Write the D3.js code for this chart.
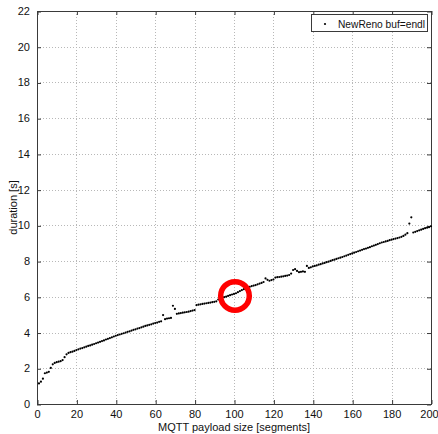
<!DOCTYPE html>
<html>
<head>
<meta charset="utf-8">
<script src="https://cdn.jsdelivr.net/npm/d3@7"></script>
<style>
  html, body { margin: 0; padding: 0; background: #fff; }
  svg { display: block; font-family: "Liberation Sans", Arial, Helvetica, sans-serif; }
</style>
</head>
<body>
<svg id="chart" width="438" height="434"></svg>
<script>
// Payload sizes in segments (1..200)
const payloadSizes = d3.range(1, 201);

// Measured completion time [s] for each payload size
const durations = [
  1.15, 1.25, 1.42, 1.72, 1.76, 1.80, 2.02, 2.22, 2.30, 2.34,
  2.37, 2.40, 2.46, 2.62, 2.78, 2.86, 2.90, 2.93, 2.97, 3.02,
  3.06, 3.10, 3.13, 3.17, 3.21, 3.25, 3.28, 3.32, 3.36, 3.40,
  3.44, 3.48, 3.52, 3.56, 3.61, 3.65, 3.69, 3.73, 3.78, 3.82,
  3.86, 3.89, 3.93, 3.96, 4.00, 4.04, 4.07, 4.11, 4.15, 4.18,
  4.22, 4.25, 4.29, 4.33, 4.37, 4.40, 4.43, 4.46, 4.50, 4.53,
  4.56, 4.60, 4.63, 4.98, 4.75, 4.78, 4.80, 4.82, 5.50, 5.32,
  5.05, 5.07, 5.09, 5.11, 5.13, 5.15, 5.17, 5.20, 5.23, 5.26,
  5.54, 5.56, 5.58, 5.60, 5.62, 5.64, 5.66, 5.68, 5.70, 5.72,
  5.75, 5.85, 5.92, 5.95, 5.98, 6.01, 6.05, 6.09, 6.13, 6.16,
  6.20, 6.26, 6.32, 6.38, 6.43, 6.48, 6.52, 6.56, 6.60, 6.63,
  6.66, 6.70, 6.74, 6.78, 6.83, 7.03, 6.95, 6.90, 6.94, 6.97,
  7.08, 7.10, 7.11, 7.13, 7.15, 7.17, 7.19, 7.22, 7.30, 7.50,
  7.55, 7.45, 7.38, 7.40, 7.42, 7.40, 7.73, 7.62, 7.65, 7.70,
  7.73, 7.76, 7.80, 7.83, 7.87, 7.90, 7.94, 7.97, 8.01, 8.05,
  8.08, 8.12, 8.16, 8.19, 8.23, 8.27, 8.31, 8.35, 8.39, 8.43,
  8.47, 8.51, 8.55, 8.59, 8.63, 8.67, 8.70, 8.74, 8.78, 8.83,
  8.87, 8.91, 8.95, 9.00, 9.04, 9.07, 9.10, 9.13, 9.17, 9.20,
  9.23, 9.26, 9.29, 9.32, 9.36, 9.41, 9.48, 9.56, 10.10, 10.45,
  9.60, 9.64, 9.68, 9.72, 9.76, 9.80, 9.84, 9.87, 9.90, 9.95
];

// Axis ticks
const xTicks = [0, 20, 40, 60, 80, 100, 120, 140, 160, 180, 200];
const yTicks = [0, 2, 4, 6, 8, 10, 12, 14, 16, 18, 20, 22];

// Highlighted operating point
const highlightSize = [100.5];
const highlightDuration = [6.05];

const seriesName = "NewReno buf=endl";
const xTitle = "MQTT payload size [segments]";
const yTitle = "duration [s]";

const points = payloadSizes.map((s, i) => ({ x: s, y: durations[i] }));

const svg = d3.select("#chart");
const margin = { left: 37, top: 11, right: 7, bottom: 30 };
const W = 438, H = 434;
const x0 = margin.left, x1 = W - margin.right;
const y0 = H - margin.bottom, y1 = margin.top;

const x = d3.scaleLinear().domain([0, 200]).range([x0, x1]);
const y = d3.scaleLinear().domain([0, 22]).range([y0, y1]);

const px = v => Math.round(v) + 0.5;
const axisColor = "#3a3a3a";
const fontSize = "11px";

// Dotted grid
const grid = svg.append("g");
grid.selectAll("line.gx").data(xTicks.slice(1, -1)).join("line")
  .attr("x1", d => px(x(d))).attr("x2", d => px(x(d)))
  .attr("y1", y1).attr("y2", y0)
  .attr("stroke", "#b8b8b8").attr("stroke-width", 1)
  .attr("stroke-dasharray", "1,2");
grid.selectAll("line.gy").data(yTicks.slice(1, -1)).join("line")
  .attr("x1", x0).attr("x2", x1)
  .attr("y1", d => px(y(d))).attr("y2", d => px(y(d)))
  .attr("stroke", "#b8b8b8").attr("stroke-width", 1)
  .attr("stroke-dasharray", "1,2");

// Axes with inward ticks on all four sides
const tickLen = 4;
const bottomAxis = d3.axisBottom(x).tickValues(xTicks).tickSize(-tickLen).tickPadding(6).tickFormat(d3.format("d"));
const topAxis = d3.axisTop(x).tickValues(xTicks).tickSize(-tickLen).tickFormat("");
const leftAxis = d3.axisLeft(y).tickValues(yTicks).tickSize(-tickLen).tickPadding(7).tickFormat(d3.format("d"));
const rightAxis = d3.axisRight(y).tickValues(yTicks).tickSize(-tickLen).tickFormat("");

function styleAxis(g) {
  g.select(".domain").remove();
  g.selectAll(".tick line").attr("stroke", axisColor);
  g.selectAll(".tick text").attr("fill", "#111").style("font-size", fontSize)
    .style("font-family", "'Liberation Sans', Arial, sans-serif");
}

const gBottom = svg.append("g").attr("transform", `translate(0,${px(y0) - 0.5})`).call(bottomAxis).call(styleAxis);
gBottom.selectAll(".tick line").attr("transform", "translate(0.5,0)");
// keep the last label inside the canvas
gBottom.selectAll(".tick text").filter(d => d === 200).attr("dx", "-2");

svg.append("g").attr("transform", `translate(0,${px(y1) - 0.5})`).call(topAxis).call(styleAxis)
  .selectAll(".tick line").attr("transform", "translate(0.5,0)");
svg.append("g").attr("transform", `translate(${px(x0) - 0.5},0)`).call(leftAxis).call(styleAxis)
  .selectAll(".tick line").attr("transform", "translate(0,0.5)");
svg.append("g").attr("transform", `translate(${px(x1) - 0.5},0)`).call(rightAxis).call(styleAxis)
  .selectAll(".tick line").attr("transform", "translate(0,0.5)");

// Plot box
svg.append("rect")
  .attr("x", px(x0)).attr("y", px(y1))
  .attr("width", Math.round(x1) - Math.round(x0)).attr("height", Math.round(y0) - Math.round(y1))
  .attr("fill", "none").attr("stroke", axisColor).attr("stroke-width", 1);

// Data points
svg.append("g").selectAll("circle").data(points).join("circle")
  .attr("cx", d => x(d.x)).attr("cy", d => y(d.y))
  .attr("r", 1.1).attr("fill", "#000");

// Highlight ring
svg.append("circle")
  .attr("cx", x(highlightSize[0])).attr("cy", y(highlightDuration[0]))
  .attr("r", 14.3).attr("fill", "none")
  .attr("stroke", "#ff0000").attr("stroke-width", 5.5);

// Axis titles
svg.append("text")
  .attr("x", x(100)).attr("y", 431)
  .attr("text-anchor", "middle").style("font-size", fontSize).attr("fill", "#111")
  .text(xTitle);
svg.append("text")
  .attr("transform", `translate(17,${(y0 + y1) / 2}) rotate(-90)`)
  .attr("text-anchor", "middle").style("font-size", fontSize).attr("fill", "#111")
  .text(yTitle);

// Legend
const legend = svg.append("g");
legend.append("rect")
  .attr("x", 311.5).attr("y", 14.5).attr("width", 116).attr("height", 17)
  .attr("fill", "#fff").attr("stroke", axisColor).attr("stroke-width", 1);
legend.append("circle").attr("cx", 325).attr("cy", 24).attr("r", 1.1).attr("fill", "#000");
legend.append("text")
  .attr("x", 338).attr("y", 27.5)
  .style("font-size", fontSize).attr("fill", "#111")
  .attr("textLength", 87).attr("lengthAdjust", "spacingAndGlyphs")
  .text(seriesName);
</script>
</body>
</html>
